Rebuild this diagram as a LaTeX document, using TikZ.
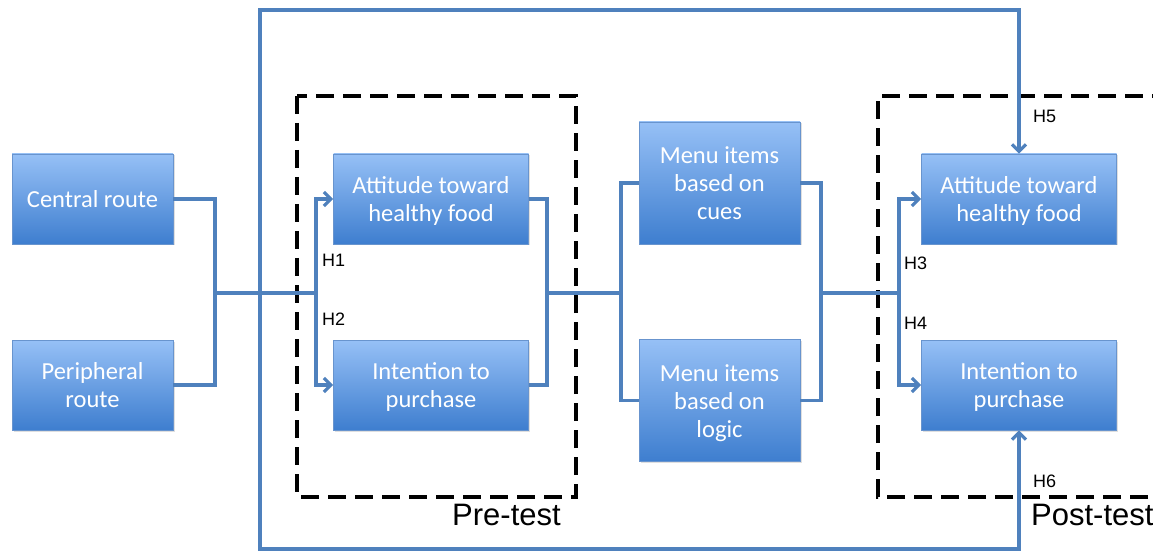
\documentclass[tikz,border=0pt]{standalone}
\usepackage{fontspec}
\setmainfont{Carlito}
\newfontfamily\arialf{Liberation Sans}
\usetikzlibrary{arrows.meta,shadows}
\definecolor{boxtop}{RGB}{150,192,246}
\definecolor{boxbot}{RGB}{62,126,207}
\definecolor{boxedge}{RGB}{104,148,206}
\definecolor{linkblue}{RGB}{79,129,189}
% box caption, set a little below the optical centre
\newcommand{\boxlines}[1]{\raisebox{-3pt}[\height][\depth]{\begin{tabular}{@{}c@{}}#1\end{tabular}}}
\tikzset{
  box/.style={rectangle, draw=boxedge, line width=0.8pt, top color=boxtop, bottom color=boxbot,
    text=white, font=\fontsize{24.5}{28}\selectfont, inner sep=0pt,
    drop shadow={shadow xshift=1.5pt, shadow yshift=-1.5pt, opacity=0.25}},
  small/.style={box, minimum width=161pt, minimum height=90pt},
  wide/.style={box, minimum width=195pt, minimum height=90pt},
  tall/.style={box, minimum width=161pt, minimum height=122pt},
  link/.style={draw=linkblue, line width=3.2pt},
  arr/.style={link, -{Straight Barb[length=7pt,width=14pt]}},
  arrboth/.style={link, {Straight Barb[length=7pt,width=14pt]}-{Straight Barb[length=7pt,width=14pt]}},
  phase/.style={draw=black, line width=4pt, dash pattern=on 18pt off 9pt},
  hlabel/.style={anchor=west, font=\arialf\fontsize{18}{20}\selectfont, inner sep=0pt},
  phaselabel/.style={anchor=west, font=\arialf\fontsize{31}{34}\selectfont, inner sep=0pt}
}
\begin{document}
\begin{tikzpicture}[x=1pt, y=-1pt]
\useasboundingbox (0,0) rectangle (1153,553);

% dashed phase frames
\draw[phase] (297,96) rectangle (576,497);
\draw[phase] (1175,497) -- (878,497) -- (878,96) -- (1175,96);
\node[phaselabel] (pre) at (452,515) {Pre-test};
\node[phaselabel] (post) at (1031,515) {Post-test};

% construct boxes
\node[small] (central) at (92.5,199) {\boxlines{Central route}};
\node[small] (peripheral) at (92.5,385) {\boxlines{Peripheral\\route}};
\node[wide] (preatt) at (431,199) {\boxlines{Attitude toward\\healthy food}};
\node[wide] (preint) at (431,385) {\boxlines{Intention to\\purchase}};
\node[tall] (cues) at (719.5,183) {\boxlines{Menu items\\based on\\cues}};
\node[tall] (logic) at (719.5,400.5) {\boxlines{Menu items\\based on\\logic}};
\node[wide] (postatt) at (1019,199) {\boxlines{Attitude toward\\healthy food}};
\node[wide] (postint) at (1019,385) {\boxlines{Intention to\\purchase}};

% junction points
\coordinate (j1) at (215,293);
\coordinate (s1) at (316,293);
\coordinate (j2) at (547,293);
\coordinate (s2) at (621,293);
\coordinate (j3) at (821,293);
\coordinate (s3) at (899,293);
\coordinate (loopT) at (260,10);
\coordinate (loopB) at (260,549);

% routes into the pre-test measures
\draw[link] (central.east) -| (j1) |- (peripheral.east);
\draw[link] (j1) -- (s1);
\draw[arr] (s1) |- (preatt.west);
\draw[arr] (s1) |- (preint.west);

% pre-test to menu conditions
\draw[link] (preatt.east) -| (j2) |- (preint.east);
\draw[link] (j2) -- (s2);
\draw[link] (cues.west) -| (s2) |- (logic.west);

% menu conditions to post-test measures
\draw[link] (cues.east) -| (j3) |- (logic.east);
\draw[link] (j3) -- (s3);
\draw[arr] (s3) |- (postatt.west);
\draw[arr] (s3) |- (postint.west);

% outer loop
\draw[arrboth] (postatt.north) |- (loopT) -- (loopB) -| (postint.south);

% hypothesis labels
\node[hlabel] (h1) at (322,260) {H1};
\node[hlabel] (h2) at (322,319) {H2};
\node[hlabel] (h3) at (904,263) {H3};
\node[hlabel] (h4) at (904,323) {H4};
\node[hlabel] (h5) at (1033,116) {H5};
\node[hlabel] (h6) at (1033,481) {H6};
\end{tikzpicture}
\end{document}
